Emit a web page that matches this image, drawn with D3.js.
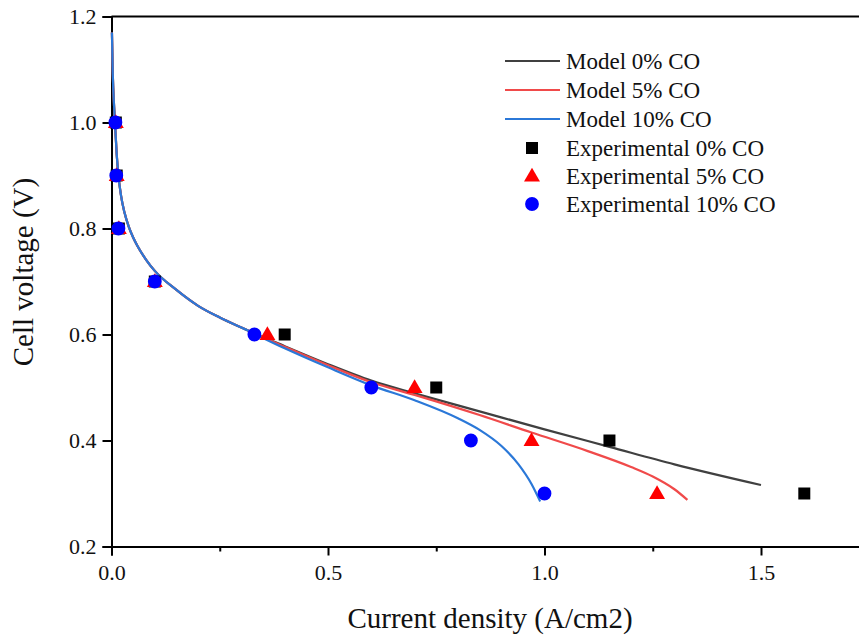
<!DOCTYPE html>
<html>
<head>
<meta charset="utf-8">
<script src="https://cdn.jsdelivr.net/npm/d3@7"></script>
<style>
  html, body { margin: 0; padding: 0; background: #fff; overflow: hidden; }
  text { font-family: "Liberation Serif", "Times New Roman", serif; fill: #111; }
</style>
</head>
<body>
<div id="chart"></div>
<script>
// DATA ------------------------------------------------------------
var xTicks = [0, 0.5, 1.0, 1.5];
var xMinorTicks = [0.25, 0.75, 1.25];
var yTicks = [0.2, 0.4, 0.6, 0.8, 1.0, 1.2];

// model curves (current density, voltage)
var modelCommon = [[0.001, 1.17], [0.003, 1.09], [0.006, 1.03], [0.009, 0.985], [0.012, 0.94],
                   [0.016, 0.9], [0.022, 0.862], [0.03, 0.83], [0.04, 0.803], [0.05, 0.783],
                   [0.06, 0.767], [0.08, 0.741], [0.1, 0.72], [0.15, 0.684], [0.2, 0.654],
                   [0.25, 0.632], [0.3, 0.613]];
var model0 = [[0.4, 0.578], [0.5, 0.544], [0.6, 0.513], [0.7, 0.489], [0.85, 0.455],
              [1.0, 0.421], [1.15, 0.388], [1.3, 0.355], [1.5, 0.316]];
var model5 = [[0.4, 0.577], [0.5, 0.542], [0.6, 0.510], [0.7, 0.486], [0.85, 0.448],
              [0.97, 0.415], [1.1, 0.38], [1.2, 0.35], [1.25, 0.332], [1.3, 0.308], [1.33, 0.288]];
var model10 = [[0.4, 0.574], [0.5, 0.538], [0.6, 0.504], [0.7, 0.476], [0.8, 0.442],
               [0.85, 0.42], [0.9, 0.39], [0.94, 0.355], [0.97, 0.318], [0.99, 0.285]];

var exp0 = [[0.01, 1.0], [0.012, 0.9], [0.017, 0.8], [0.1, 0.7], [0.4, 0.6], [0.75, 0.5], [1.15, 0.4], [1.6, 0.3]];
var exp5 = [[0.01, 1.0], [0.012, 0.9], [0.017, 0.8], [0.1, 0.7], [0.36, 0.6], [0.7, 0.5], [0.97, 0.4], [1.26, 0.3]];
var exp10 = [[0.009, 1.0], [0.011, 0.9], [0.016, 0.8], [0.1, 0.7], [0.33, 0.6], [0.6, 0.5], [0.83, 0.4], [1.0, 0.3]];

var legendLabels = ["Model 0% CO", "Model 5% CO", "Model 10% CO",
                    "Experimental 0% CO", "Experimental 5% CO", "Experimental 10% CO"];
// END ------------------------------------------------------------

var colors = {
	'line0': '#404040',
	'line5': '#f04a4a',
	'line10': '#2b78d8',
	'pt0': '#000000',
	'pt5': '#ff0000',
	'pt10': '#0000ff'
};

var W = 859, H = 641;
var svg = d3.select("#chart").append("svg")
	.attr("width", W)
	.attr("height", H);

var x = d3.scaleLinear().domain([0, 1.75]).range([111.5, 111.5 + 1.75 * 433]);
var y = d3.scaleLinear().domain([0.2, 1.2]).range([546.5, 16.5]);

// frame (top line) ------------------------------------------------
svg.append("line")
	.attr("x1", x(0)).attr("x2", x(1.75))
	.attr("y1", y(1.2)).attr("y2", y(1.2))
	.attr("stroke", "#000").attr("stroke-width", 2);

// x axis
var xAxis = svg.append("g")
	.attr("transform", "translate(0," + y(0.2) + ")")
	.call(d3.axisBottom(x).tickValues(xTicks).tickSize(9).tickPadding(9)
		.tickFormat(d3.format(".1f")));
xAxis.append("g")
	.call(d3.axisBottom(x).tickValues(xMinorTicks).tickSize(5).tickFormat(""))
	.select(".domain").remove();

// y axis
var yAxis = svg.append("g")
	.attr("transform", "translate(" + x(0) + ",0)")
	.call(d3.axisLeft(y).tickValues(yTicks).tickSize(9).tickPadding(6)
		.tickFormat(d3.format(".1f")));

svg.selectAll(".domain").attr("stroke", "#000").attr("stroke-width", 2);
svg.selectAll(".tick line").attr("stroke", "#000").attr("stroke-width", 2);
svg.selectAll(".tick text")
	.attr("font-family", "Liberation Serif")
	.attr("font-size", 22)
	.attr("fill", "#111");

// axis titles
svg.append("text")
	.attr("x", 490).attr("y", 628)
	.attr("text-anchor", "middle")
	.attr("font-size", 29)
	.text("Current density (A/cm2)");

svg.append("text")
	.attr("transform", "translate(33,272) rotate(-90)")
	.attr("text-anchor", "middle")
	.attr("font-size", 29)
	.text("Cell voltage (V)");

// model lines -----------------------------------------------------
var line = d3.line()
	.x(function(d) { return x(d[0]); })
	.y(function(d) { return y(d[1]); })
	.curve(d3.curveMonotoneX);

var models = [
	{data: modelCommon.concat(model0), color: colors.line0},
	{data: modelCommon.concat(model5), color: colors.line5},
	{data: modelCommon.concat(model10), color: colors.line10}
];

svg.selectAll("path.model")
	.data(models)
	.enter()
	.append("path")
	.attr("class", "model")
	.attr("d", function(d) { return line(d.data); })
	.attr("fill", "none")
	.attr("stroke", function(d) { return d.color; })
	.attr("stroke-width", 2.2);

// experimental points ---------------------------------------------
var sq = d3.symbol().type(d3.symbolSquare).size(144);
var tri = d3.symbol().type(d3.symbolTriangle).size(110);
var circ = d3.symbol().type(d3.symbolCircle).size(150);

function drawPoints(data, sym, color, dy) {
	svg.append("g").selectAll("path")
		.data(data)
		.enter()
		.append("path")
		.attr("d", sym)
		.attr("transform", function(d) {
			return "translate(" + x(d[0]) + "," + (y(d[1]) + dy) + ")";
		})
		.attr("fill", color);
}
drawPoints(exp0, sq, colors.pt0, 0);
drawPoints(exp5, tri, colors.pt5, 1);
drawPoints(exp10, circ, colors.pt10, 0);

// legend ----------------------------------------------------------
var lg = svg.append("g");
var rowY = [61, 90, 119, 148, 176, 204];
var lineCols = [colors.line0, colors.line5, colors.line10];
var syms = [sq, tri, circ];
var ptCols = [colors.pt0, colors.pt5, colors.pt10];

legendLabels.forEach(function(lbl, i) {
	if (i < 3) {
		lg.append("line")
			.attr("x1", 505).attr("x2", 560)
			.attr("y1", rowY[i]).attr("y2", rowY[i])
			.attr("stroke", lineCols[i]).attr("stroke-width", 2);
	} else {
		lg.append("path")
			.attr("d", syms[i - 3])
			.attr("transform", "translate(532," + (rowY[i] + (i === 4 ? 1 : 0)) + ")")
			.attr("fill", ptCols[i - 3]);
	}
	lg.append("text")
		.attr("x", 566).attr("y", rowY[i] + 8)
		.attr("font-size", 23)
		.text(lbl);
});
</script>
</body>
</html>
